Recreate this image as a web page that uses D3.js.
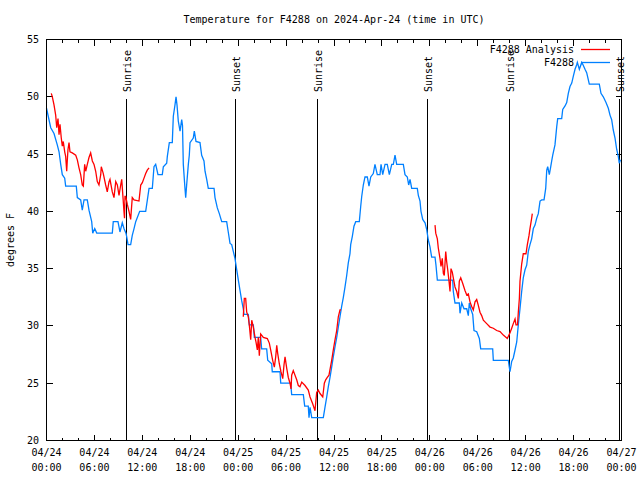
<!DOCTYPE html>
<html><head><meta charset="utf-8">
<script src="https://cdn.jsdelivr.net/npm/d3@7"></script>
<style>
html,body{margin:0;padding:0;background:#fff;}
svg{display:block;}
text{font-family:"DejaVu Sans Mono",monospace;font-size:10px;fill:#000;}
</style></head>
<body><svg id="chart" width="640" height="480"></svg>
<script>
// Hours since 2024-04-24 00:00 UTC, temperatures in degrees F
const obsHours = [0,0.53,0.94,1.35,1.57,1.78,1.98,2.28,2.40,3.73,3.86,4.28,4.48,4.70,5.11,5.32,5.66,5.79,6.04,6.29,8.24,8.36,8.95,9.20,9.49,9.70,9.95,10.04,10.21,10.54,10.74,10.96,11.17,11.67,12.42,12.84,13.25,13.46,13.67,13.96,14.50,14.63,15.05,15.13,15.38,15.75,15.88,16.09,16.22,16.34,16.50,16.72,16.93,17.03,17.13,17.34,17.43,17.55,17.76,17.88,17.97,18.38,18.51,18.72,19.22,19.43,19.72,19.85,20.06,20.26,20.98,21.10,21.39,21.64,21.94,22.56,22.76,22.98,23.19,23.39,23.60,23.82,24.02,24.23,24.44,24.64,24.73,25.27,25.39,25.90,26.02,26.82,26.94,27.57,27.70,28.20,28.27,29.24,29.33,30.58,30.70,32.16,32.33,32.78,32.87,33.00,33.21,34.66,34.87,35.09,35.29,35.50,35.71,35.91,36.13,36.34,36.54,36.75,36.96,37.17,37.38,37.59,37.79,38.00,38.09,38.29,38.50,38.72,39.17,39.34,39.47,39.67,39.88,40.17,40.38,40.60,40.92,41.13,41.42,41.76,41.89,42.10,42.39,42.67,42.93,43.23,43.43,43.64,43.85,44.68,44.89,45.18,45.35,45.52,45.73,46.43,46.56,46.77,46.89,47.11,47.40,47.61,47.81,48.02,48.23,48.65,48.77,48.94,50.86,50.94,51.15,51.69,51.78,51.99,52.28,52.62,52.82,52.94,53.12,53.37,53.53,53.87,54.20,54.37,55.87,55.95,57.83,57.95,58.04,58.25,58.45,58.67,58.88,59.08,59.29,59.50,59.70,59.92,60.13,60.33,60.54,60.75,60.96,61.17,61.38,61.58,61.80,62.01,62.30,62.51,62.64,62.76,62.96,63.14,63.26,63.39,63.67,63.89,64.01,64.51,64.64,64.93,65.14,65.34,65.55,65.77,65.97,66.18,66.39,66.47,66.72,67.02,67.18,67.43,67.64,67.84,67.97,69.22,69.43,69.72,70.06,70.35,70.56,70.77,70.97,71.19,71.40,71.60,71.72,71.87];
const obsTemps = [49.0,47.3,46.8,45.8,45.2,44.1,43.2,42.9,42.2,42.2,41.2,41.0,40.1,41.0,41.0,40.1,39.1,38.1,38.5,38.1,38.1,39.1,39.1,38.2,39.0,38.5,38.1,37.8,37.1,37.1,37.9,38.5,39.1,40.0,40.0,42.0,42.0,43.9,44.1,43.2,43.2,43.9,44.2,44.8,46.0,46.0,48.3,49.3,50.0,49.3,47.9,47.0,48.0,47.5,44.1,42.0,41.2,42.3,44.1,44.9,46.0,46.4,47.0,46.1,46.0,44.9,44.4,43.5,42.8,42.0,42.0,41.2,40.3,39.8,39.1,39.1,38.2,37.2,37.1,36.5,35.9,34.9,34.0,33.1,32.2,31.5,31.0,31.0,30.1,30.1,29.0,29.0,28.0,28.0,27.0,26.7,26.0,26.0,25.0,25.0,24.0,24.0,23.0,23.0,22.0,22.9,22.0,22.0,22.9,23.8,24.7,25.5,26.4,27.3,28.2,29.0,29.9,30.8,31.7,32.5,33.4,34.4,35.5,36.3,37.1,37.8,38.7,39.1,39.1,40.4,41.3,42.3,43.0,43.0,42.2,43.0,43.3,44.1,43.2,43.2,44.1,43.2,44.1,44.1,43.2,44.1,44.1,44.9,44.1,44.1,43.2,43.0,42.3,42.8,42.0,42.0,41.4,40.9,40.0,39.3,39.0,38.4,37.5,36.9,36.0,36.0,35.3,34.0,34.0,33.0,32.0,32.0,31.1,32.0,31.5,31.5,30.9,32.0,31.5,31.0,29.6,29.5,28.9,28.0,28.0,27.0,27.0,26.4,26.0,26.9,27.2,27.9,28.6,30.1,31.5,33.0,34.2,34.9,35.3,36.5,37.1,37.6,38.5,38.8,39.4,39.8,40.9,41.0,41.0,42.0,43.6,43.9,43.2,43.9,44.4,44.9,45.8,47.4,48.1,48.1,48.9,49.2,49.5,50.3,50.9,51.2,51.8,52.4,52.8,53.0,52.4,53.0,52.8,52.4,52.1,51.5,51.1,51.1,50.3,50.0,49.5,49.0,48.4,48.0,47.1,46.4,45.4,44.8,44.2,44.5];

// Analysis series: three separate segments
const anaHours1 = [0.60,0.73,0.94,1.15,1.28,1.44,1.57,1.69,1.85,1.98,2.10,2.28,2.40,2.53,2.60,2.69,2.82,2.94,3.23,3.66,3.86,4.07,4.28,4.48,4.61,4.78,4.91,5.11,5.32,5.53,5.74,5.95,6.16,6.36,6.57,6.79,6.86,7.11,7.41,7.61,7.83,7.95,8.24,8.45,8.67,8.87,9.08,9.29,9.42,9.58,9.70,9.77,9.83,9.92,10.12,10.33,10.54,10.74,10.96,11.58,11.80,12.00,12.21,12.42,12.62,12.84];
const anaTemps1 = [50.3,50.0,49.3,48.4,47.3,48.1,46.7,47.6,46.4,45.7,46.1,45.2,44.8,43.5,44.4,45.4,46.0,45.2,45.1,44.9,44.5,43.8,43.2,42.3,42.2,44.1,43.5,44.1,44.7,45.1,44.4,44.1,43.5,42.6,42.3,43.2,43.9,43.3,42.3,41.7,42.6,42.8,41.7,41.2,42.6,42.3,41.4,42.3,42.8,41.2,40.0,39.4,41.3,41.3,40.6,40.0,39.3,41.2,41.0,40.9,42.3,42.5,42.9,43.3,43.6,43.8];
const anaHours2 = [24.64,24.77,24.94,25.07,25.27,25.39,25.57,25.70,25.90,26.11,26.23,26.40,26.52,26.65,26.82,27.15,27.65,27.90,28.07,28.32,28.53,28.70,28.83,28.95,29.15,29.36,29.58,29.74,29.87,30.08,30.28,30.49,30.62,30.70,30.90,31.33,31.53,31.74,31.96,32.37,32.78,33.00,33.33,33.62,33.83,34.03,34.25,34.59,34.79,34.96,35.16,35.37,35.71,35.91,36.13,36.34,36.54,36.75,36.88];
const anaTemps2 = [30.8,32.4,32.4,31.2,30.8,30.1,28.8,30.5,29.9,29.0,28.6,27.9,29.0,27.4,29.3,29.0,28.9,28.5,27.9,27.0,26.4,27.3,28.3,27.6,26.7,26.0,25.4,26.6,27.3,26.3,25.5,25.0,24.5,25.7,26.1,25.3,24.8,24.7,25.1,24.8,24.4,23.8,23.2,22.6,24.2,24.4,24.1,23.8,25.0,25.3,25.5,25.7,27.0,27.9,28.8,29.6,30.8,31.4,31.4];
const anaHours3 = [48.65,48.74,48.94,49.06,49.27,49.40,49.56,49.69,49.81,49.99,50.11,50.24,50.40,50.53,50.65,50.81,50.94,51.15,51.37,51.57,51.69,51.87,52.12,52.40,52.62,52.82,53.03,53.24,53.44,53.66,53.87,54.07,54.28,54.49,54.70,55.12,55.54,55.95,56.37,56.79,57.20,57.70,58.04,58.25,58.45,58.67,58.79,58.98,59.08,59.21,59.29,59.50,59.70,60.04,60.21,60.42,60.54,60.75,60.83];
const anaTemps3 = [38.8,38.1,37.6,36.8,35.9,35.2,35.9,34.6,34.4,36.5,35.6,34.9,33.9,33.0,35.0,34.7,34.2,33.4,33.0,32.4,33.9,34.2,33.7,33.1,32.7,32.8,32.1,31.7,31.4,32.1,32.3,31.8,31.2,30.9,30.5,30.2,29.9,29.8,29.6,29.5,29.2,28.9,29.4,29.8,30.2,30.6,30.1,30.1,31.2,32.4,33.9,35.4,36.3,36.3,37.1,37.9,38.5,39.4,39.8];

const sunHours = [9.99, 23.64, 33.91, 47.68, 57.95, 71.72];
const sunLabels = ["Sunrise","Sunset","Sunrise","Sunset","Sunrise","Sunset"];

const xTickHours = [0,6,12,18,24,30,36,42,48,54,60,66,72];
const xTickDates = ["04/24","04/24","04/24","04/24","04/25","04/25","04/25","04/25","04/26","04/26","04/26","04/26","04/27"];
const xTickTimes = ["00:00","06:00","12:00","18:00","00:00","06:00","12:00","18:00","00:00","06:00","12:00","18:00","00:00"];
const yTicks = [20,25,30,35,40,45,50,55];

const titleText = "Temperature for F4288 on 2024-Apr-24 (time in UTC)";
const yLabelText = "degrees F";
const seriesNames = ["F4288 Analysis","F4288"];
const seriesColors = ["#ff0000","#0080ff"];

const svg = d3.select("#chart");
const L = 46.5, R = 621.5, T = 39.5, B = 440.5;
const x = d3.scaleLinear().domain([0,72]).range([L,R]);
const y = d3.scaleLinear().domain([20,55]).range([B,T]);

// Title
svg.append("text").attr("x",(L+R)/2).attr("y",23).attr("text-anchor","middle").text(titleText);
// Y label
svg.append("text").attr("transform","translate(14,240) rotate(-90)").attr("text-anchor","middle").text(yLabelText);

const g = svg.append("g");

// minor ticks every 2 hours, major every 6 (inward, mirrored)
const minorHours = d3.range(0,73,2);
const axB = d3.axisBottom(x).tickValues(minorHours).tickSizeInner(0).tickSizeOuter(0).tickFormat("");
const tickG = g.append("g").attr("shape-rendering","crispEdges");
tickG.selectAll("line.xb").data(minorHours).join("line")
  .attr("x1",d=>x(d)).attr("x2",d=>x(d)).attr("y1",B).attr("y2",d=>B-(d%6===0?6:3)).attr("stroke","#000");
tickG.selectAll("line.xt").data(minorHours).join("line")
  .attr("x1",d=>x(d)).attr("x2",d=>x(d)).attr("y1",T).attr("y2",d=>T+(d%6===0?6:3)).attr("stroke","#000");
tickG.selectAll("line.yl").data(yTicks).join("line")
  .attr("x1",L).attr("x2",L+6).attr("y1",d=>y(d)).attr("y2",d=>y(d)).attr("stroke","#000");
tickG.selectAll("line.yr").data(yTicks).join("line")
  .attr("x1",R).attr("x2",R-6).attr("y1",d=>y(d)).attr("y2",d=>y(d)).attr("stroke","#000");

// x tick labels
const xl = g.append("g");
xTickHours.forEach((h,i)=>{
  const t = xl.append("text").attr("x",x(h)).attr("text-anchor","middle");
  t.append("tspan").attr("x",x(h)).attr("y",456).text(xTickDates[i]);
  t.append("tspan").attr("x",x(h)).attr("y",471).text(xTickTimes[i]);
});
// y tick labels
g.append("g").selectAll("text").data(yTicks).join("text")
  .attr("x",39).attr("y",d=>y(d)+3.5).attr("text-anchor","end").text(d=>d);

// Sun lines
sunHours.forEach((h,i)=>{
  const px = Math.round(x(h))+0.5;
  g.append("line").attr("x1",px).attr("x2",px).attr("y1",99).attr("y2",B)
    .attr("stroke","#000").attr("stroke-width",1.3).attr("shape-rendering","crispEdges");
  g.append("text").attr("transform",`translate(${px+4},92) rotate(-90)`)
    .attr("text-anchor","start").text(sunLabels[i]);
});

// Data lines
const line = d3.line().x(d=>x(d[0])).y(d=>y(d[1]));
const obs = d3.zip(obsHours, obsTemps);
g.append("path").datum(obs).attr("d",line).attr("fill","none")
  .attr("stroke",seriesColors[1]).attr("stroke-width",1.3);
[[anaHours1,anaTemps1],[anaHours2,anaTemps2],[anaHours3,anaTemps3]].forEach(([h,t])=>{
  g.append("path").datum(d3.zip(h,t)).attr("d",line).attr("fill","none")
    .attr("stroke",seriesColors[0]).attr("stroke-width",1.3);
});

// Legend
seriesNames.forEach((n,i)=>{
  const ly = 49 + i*13;
  g.append("text").attr("x",574).attr("y",ly+3.5).attr("text-anchor","end").text(n);
  g.append("line").attr("x1",581).attr("x2",610).attr("y1",ly+0.5).attr("y2",ly+0.5)
    .attr("stroke",seriesColors[i]).attr("stroke-width",1.3);
});

// Border
g.append("rect").attr("x",L).attr("y",T).attr("width",R-L).attr("height",B-T)
  .attr("fill","none").attr("stroke","#000").attr("stroke-width",1.3).attr("shape-rendering","crispEdges");
</script></body></html>
